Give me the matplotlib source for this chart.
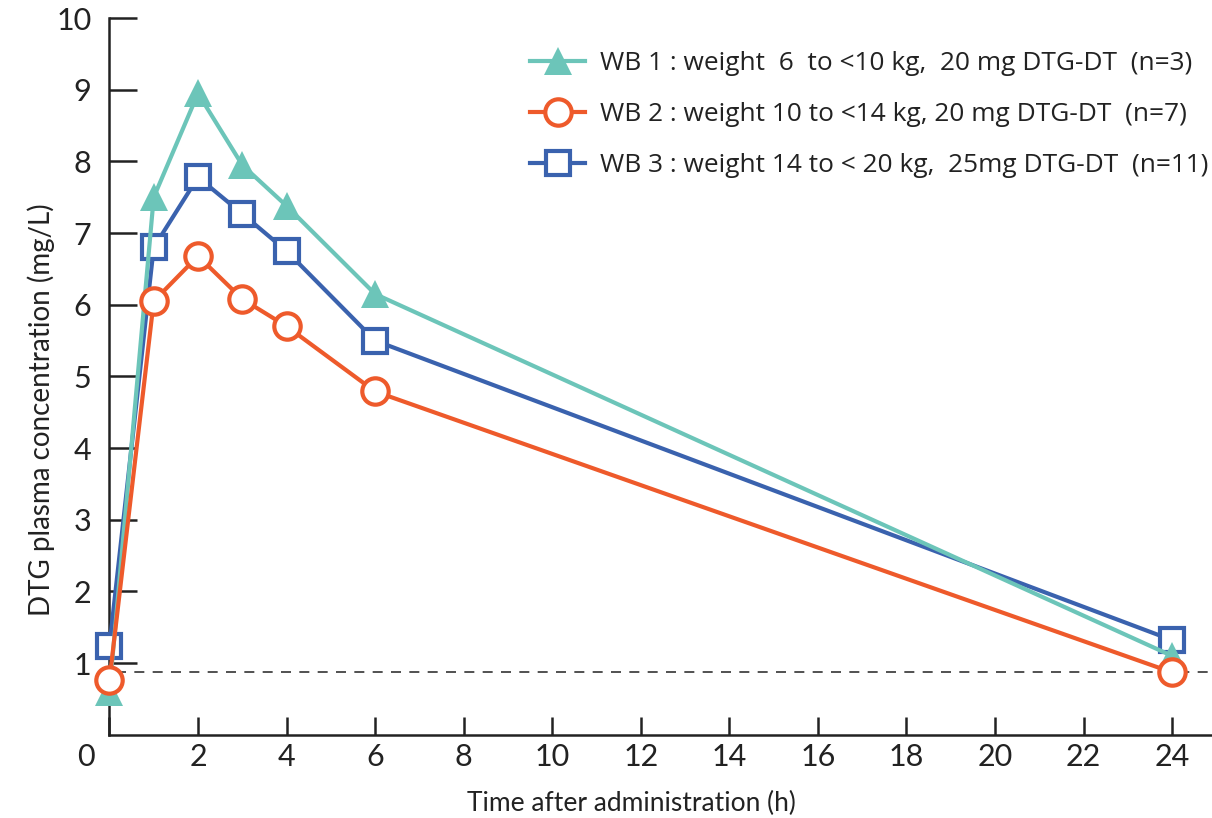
import matplotlib
matplotlib.use("Agg")
import matplotlib.pyplot as plt
from matplotlib.transforms import ScaledTranslation

plt.rcParams['font.family'] = ['Lato', 'DejaVu Sans']

# tiempos de muestreo (h)
tiempos = [0, 1, 2, 3, 4, 6, 24]

# concentraciones (mg/L)
wb1 = [0.60, 7.50, 8.95, 7.95, 7.38, 6.15, 1.10]
wb2 = [0.76, 6.05, 6.68, 6.08, 5.70, 4.79, 0.87]
wb3 = [1.24, 6.80, 7.78, 7.27, 6.75, 5.50, 1.32]

etiquetas = [
    "WB 1 : weight  6  to <10 kg,  20 mg DTG-DT  (n=3)",
    "WB 2 : weight 10 to <14 kg, 20 mg DTG-DT  (n=7)",
    "WB 3 : weight 14 to < 20 kg,  25mg DTG-DT  (n=11)",
]
limite = 0.88
xticks = list(range(0, 25, 2))
yticks = list(range(1, 11))

teal = "#6cc5b9"
naranja = "#ee5a2b"
azul = "#3a62ae"

fig = plt.figure(figsize=(12.12, 8.18), dpi=100)
ax = fig.add_axes([0.0903, 0.1018, 0.9097, 0.876])

# linea punteada del limite
ax.axhline(limite, xmin=0.006, xmax=1, color="#333333", lw=1.2, dashes=(6, 5), zorder=1)

l3, = ax.plot(tiempos, wb3, color=azul, lw=3, marker="s", markersize=17,
              markerfacecolor="white", markeredgewidth=3, zorder=3, clip_on=False)
l1, = ax.plot(tiempos, wb1, color=teal, lw=3, marker="^", markersize=20,
              markeredgewidth=0, zorder=4, clip_on=False)
l2, = ax.plot(tiempos, wb2, color=naranja, lw=3, marker="o", markersize=19,
              markerfacecolor="white", markeredgewidth=3, zorder=5, clip_on=False)

ax.set_xlim(0, 24.9)
ax.set_ylim(0, 10)
ax.set_xticks(xticks)
ax.set_yticks(yticks)
ax.spines['top'].set_visible(False)
ax.spines['right'].set_visible(False)
for s in ['left', 'bottom']:
    ax.spines[s].set_linewidth(1.8)
    ax.spines[s].set_color("#222222")
ax.tick_params(axis='y', direction='in', length=20, width=1.8, pad=13,
               labelsize=22, colors="#222222")
ax.tick_params(axis='x', direction='in', length=13, width=1.8, pad=6,
               labelsize=22, colors="#222222")

# el "0" del eje x va corrido a la izquierda
fig.canvas.draw()
lbl0 = ax.get_xticklabels()[0]
lbl0.set_transform(lbl0.get_transform() + ScaledTranslation(-24 / 100, 0, fig.dpi_scale_trans))

fig.text(41 / 1212, 1 - 410 / 818, "DTG plasma concentration (mg/L)", rotation=90,
         ha="center", va="center", fontsize=20, color="#222222")
fig.text(631 / 1212, 1 - 803 / 818, "Time after administration (h)",
         ha="center", va="center", fontsize=19, color="#222222")

leg = ax.legend([l1, l2, l3], etiquetas, loc="upper left",
                bbox_to_anchor=(530 / 1212, 1 - 51 / 818), bbox_transform=fig.transFigure,
                frameon=False, handlelength=2.1, handletextpad=0.55,
                labelspacing=1.0, borderpad=0, borderaxespad=0,
                prop={'family': 'Open Sans', 'size': 18.9})
for t in leg.get_texts():
    t.set_color("#222222")

fig.savefig("out.png", dpi=100)
